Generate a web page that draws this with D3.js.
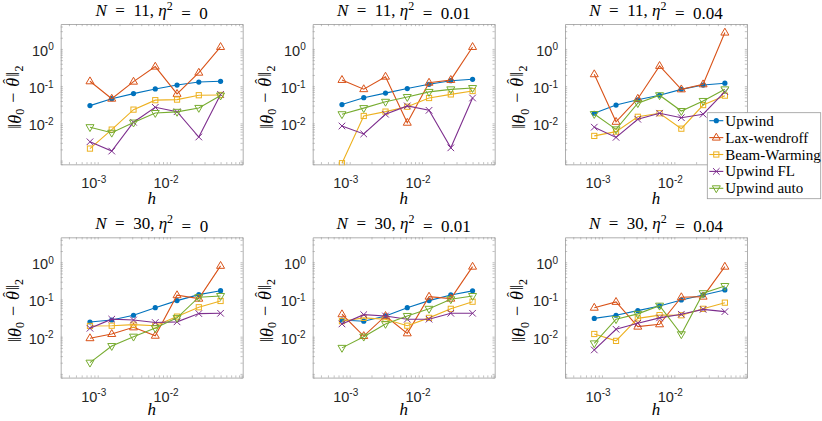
<!DOCTYPE html>
<html>
<head>
<meta charset="utf-8">
<script src="https://cdn.jsdelivr.net/npm/d3@7"></script>
<style>
  body { margin: 0; background: #fff; }
  svg { display: block; }
  .serif { font-family: "Liberation Serif", "DejaVu Serif", serif; }
  .sans { font-family: "Liberation Sans", Arial, sans-serif; }
</style>
</head>
<body>
<svg id="chart" width="822" height="421"></svg>
<script>
// DATA
const hValues = [1/1280, 1/640, 1/320, 1/160, 1/80, 1/40, 1/20];

const panelN = [11, 11, 11, 30, 30, 30];
const panelEta = ["0", "0.01", "0.04", "0", "0.01", "0.04"];

const seriesNames = ["Upwind", "Lax-wendroff", "Beam-Warming", "Upwind FL", "Upwind auto"];
const seriesColors = ["#0072BD", "#D95319", "#EDB120", "#7E2F8E", "#77AC30"];
const seriesMarkers = ["dot", "triUp", "square", "cross", "triDown"];

// one row per panel
const upwind = [
  [0.030, 0.046, 0.063, 0.084, 0.107, 0.129, 0.135],
  [0.032, 0.049, 0.065, 0.086, 0.112, 0.140, 0.153],
  [0.0187, 0.031, 0.043, 0.057, 0.082, 0.107, 0.120],
  [0.0248, 0.028, 0.0376, 0.060, 0.093, 0.135, 0.172],
  [0.028, 0.026, 0.036, 0.060, 0.093, 0.132, 0.170],
  [0.031, 0.0376, 0.050, 0.067, 0.097, 0.132, 0.180]
];
const laxWendroff = [
  [0.135, 0.046, 0.132, 0.335, 0.062, 0.230, 1.13],
  [0.147, 0.083, 0.180, 0.0104, 0.124, 0.147, 1.13],
  [0.209, 0.011, 0.046, 0.350, 0.082, 0.112, 2.75],
  [0.0091, 0.0118, 0.0178, 0.0106, 0.130, 0.105, 0.80],
  [0.040, 0.0104, 0.036, 0.0123, 0.119, 0.105, 0.76],
  [0.060, 0.086, 0.0186, 0.0215, 0.115, 0.119, 0.76]
];
const beamWarming = [
  [0.0021, 0.0068, 0.0234, 0.042, 0.0435, 0.057, 0.058],
  [0.00085, 0.0158, 0.0207, 0.028, 0.048, 0.060, 0.074],
  [0.0046, 0.0060, 0.015, 0.0187, 0.0072, 0.031, 0.0556],
  [0.0194, 0.0197, 0.021, 0.0197, 0.0346, 0.0617, 0.091],
  [0.026, 0.032, 0.0295, 0.0197, 0.032, 0.056, 0.087],
  [0.0118, 0.0077, 0.031, 0.038, 0.0376, 0.056, 0.082]
];
const upwindFL = [
  [0.0032, 0.0018, 0.0107, 0.027, 0.0205, 0.0043, 0.060],
  [0.0085, 0.0052, 0.0176, 0.0295, 0.0224, 0.0022, 0.048],
  [0.0079, 0.0042, 0.0129, 0.0187, 0.0142, 0.0176, 0.071],
  [0.0168, 0.0295, 0.028, 0.024, 0.025, 0.0417, 0.0425],
  [0.022, 0.039, 0.036, 0.0295, 0.0295, 0.0425, 0.0425],
  [0.0044, 0.0158, 0.023, 0.032, 0.040, 0.054, 0.047]
];
const upwindAuto = [
  [0.0079, 0.0056, 0.0105, 0.019, 0.0204, 0.026, 0.056],
  [0.0176, 0.0257, 0.038, 0.051, 0.070, 0.082, 0.089],
  [0.0178, 0.0069, 0.035, 0.057, 0.0215, 0.040, 0.082],
  [0.0020, 0.0056, 0.010, 0.017, 0.032, 0.115, 0.124],
  [0.0050, 0.010, 0.022, 0.036, 0.056, 0.101, 0.124],
  [0.0066, 0.0295, 0.041, 0.068, 0.0116, 0.147, 0.230]
];
const allSeries = [upwind, laxWendroff, beamWarming, upwindFL, upwindAuto];

const xMajor = [-3, -2];
const yMajor = [0, -1, -2];

// LAYOUT
const svg = d3.select("#chart");
const colLeft = [60.7, 312.7, 565];
const rowTop = [24, 237.3];
const hLabelDy = [40, 37.5];
const boxW = 182, boxH = 140.3;
const xDomain = [Math.pow(10, -3.512), Math.pow(10, -0.995)];
const yDomain = [Math.pow(10, -3.1), Math.pow(10, 0.67)];
const axisColor = "#9a9a9a";

function minorTicks(domain) {
  const out = [];
  const lo = Math.floor(Math.log10(domain[0])), hi = Math.ceil(Math.log10(domain[1]));
  for (let e = lo; e <= hi; e++) {
    for (let m = 1; m <= 9; m++) {
      const v = m * Math.pow(10, e);
      if (v >= domain[0] && v <= domain[1]) out.push(v);
    }
  }
  return out;
}

function drawMarker(sel, type, color) {
  if (type === "dot") {
    sel.append("circle").attr("r", 2.6).attr("fill", color);
  } else if (type === "triUp") {
    sel.append("path").attr("d", "M0,-4.4L4,2.5L-4,2.5Z")
      .attr("fill", "none").attr("stroke", color).attr("stroke-width", 1);
  } else if (type === "triDown") {
    sel.append("path").attr("d", "M0,4.4L4,-2.5L-4,-2.5Z")
      .attr("fill", "none").attr("stroke", color).attr("stroke-width", 1);
  } else if (type === "square") {
    sel.append("rect").attr("x", -2.6).attr("y", -2.6).attr("width", 5.2).attr("height", 5.2)
      .attr("fill", "none").attr("stroke", color).attr("stroke-width", 1);
  } else if (type === "cross") {
    sel.append("path").attr("d", "M-3.3,-3.3L3.3,3.3M-3.3,3.3L3.3,-3.3")
      .attr("fill", "none").attr("stroke", color).attr("stroke-width", 1);
  }
}

function powLabel(sel, exp) {
  sel.append("tspan").text("10");
  sel.append("tspan").attr("dy", "-0.55em").attr("font-size", "10px")
    .text(exp === 0 ? "0" : "-" + Math.abs(exp));
}

panelN.forEach((N, p) => {
  const col = p % 3, row = Math.floor(p / 3);
  const g = svg.append("g").attr("transform", `translate(${colLeft[col]},${rowTop[row]})`);

  const x = d3.scaleLog().domain(xDomain).range([0, boxW]);
  const y = d3.scaleLog().domain(yDomain).range([boxH, 0]);

  const clipId = "clip" + p;
  g.append("clipPath").attr("id", clipId)
    .append("rect").attr("x", -1).attr("y", -1).attr("width", boxW + 2).attr("height", boxH + 2);

  // ticks (inward, all sides)
  const xt = minorTicks(xDomain), yt = minorTicks(yDomain);
  const axes = [
    [d3.axisBottom(x), `translate(0,${boxH})`, xt],
    [d3.axisTop(x), "translate(0,0)", xt],
    [d3.axisLeft(y), "translate(0,0)", yt],
    [d3.axisRight(y), `translate(${boxW},0)`, yt]
  ];
  axes.forEach(([ax, tr, tv]) => {
    const a = g.append("g").attr("transform", tr)
      .call(ax.tickValues(tv).tickFormat("").tickSizeInner(-2.2).tickSizeOuter(0));
    a.select(".domain").attr("stroke", axisColor).attr("stroke-width", 0.8);
    a.selectAll(".tick line").attr("stroke", axisColor).attr("stroke-width", 0.6);
  });

  // tick labels
  xMajor.forEach(e => {
    const t = g.append("text").attr("class", "sans").attr("font-size", "14.5px")
      .attr("fill", "#262626")
      .attr("x", x(Math.pow(10, e)) - 4).attr("y", boxH + 24)
      .attr("text-anchor", "middle");
    powLabel(t, e);
  });
  yMajor.forEach(e => {
    const t = g.append("text").attr("class", "sans").attr("font-size", "14.5px")
      .attr("fill", "#262626")
      .attr("x", -7).attr("y", y(Math.pow(10, e)) + 7)
      .attr("text-anchor", "end");
    powLabel(t, e);
  });

  // title
  const title = g.append("text").attr("class", "serif").attr("font-size", "17px")
    .attr("x", boxW / 2).attr("y", -8).attr("text-anchor", "middle").attr("fill", "#000");
  title.append("tspan").attr("font-style", "italic").text("N");
  title.append("tspan").text("\u2002=\u2002" + N + ", ");
  title.append("tspan").attr("font-style", "italic").text("η");
  title.append("tspan").attr("dy", "-0.5em").attr("font-size", "12px").text("2");
  title.append("tspan").attr("dy", "0.5em").text("\u2002=\u2002" + panelEta[p]);

  // axis labels
  g.append("text").attr("class", "serif").attr("font-size", "17px").attr("font-style", "italic")
    .attr("x", boxW / 2).attr("y", boxH + hLabelDy[row]).attr("text-anchor", "middle").text("h");

  const yl = g.append("text").attr("class", "serif").attr("font-size", "18px")
    .attr("transform", `translate(-40,${boxH / 2 + 3}) rotate(-90)`)
    .attr("text-anchor", "middle");
  yl.append("tspan").text("‖");
  yl.append("tspan").attr("font-style", "italic").text("θ");
  yl.append("tspan").attr("dy", "0.3em").attr("font-size", "12px").text("0");
  yl.append("tspan").attr("dy", "-0.3em").text("\u2004−\u2004");
  yl.append("tspan").attr("font-style", "italic").text("θ");
  yl.append("tspan").attr("dx", "-0.4em").attr("dy", "-0.42em").attr("font-size", "15px").text("ˆ");
  yl.append("tspan").attr("dx", "0.12em").attr("dy", "0.35em").text("‖");
  yl.append("tspan").attr("dy", "0.3em").attr("font-size", "12px").text("2");

  // series
  const plot = g.append("g").attr("clip-path", `url(#${clipId})`);
  const line = d3.line().x((d, i) => x(hValues[i])).y(d => y(d));
  allSeries.forEach((s, k) => {
    const vals = s[p];
    plot.append("path").datum(vals).attr("d", line)
      .attr("fill", "none").attr("stroke", seriesColors[k]).attr("stroke-width", 1.1);
    vals.forEach((v, i) => {
      const m = plot.append("g").attr("transform", `translate(${x(hValues[i])},${y(v)})`);
      drawMarker(m, seriesMarkers[k], seriesColors[k]);
    });
  });
});

// LEGEND
const leg = svg.append("g").attr("transform", "translate(707.3,112.7)");
leg.append("rect").attr("width", 113.4).attr("height", 86)
  .attr("fill", "#fff").attr("stroke", axisColor).attr("stroke-width", 0.8);
seriesNames.forEach((name, k) => {
  const cy = 8 + k * 16.9;
  const r = leg.append("g").attr("transform", `translate(0,${cy})`);
  r.append("line").attr("x1", 2).attr("x2", 16).attr("stroke", seriesColors[k]).attr("stroke-width", 1.1);
  const m = r.append("g").attr("transform", "translate(9,0)");
  drawMarker(m, seriesMarkers[k], seriesColors[k]);
  r.append("text").attr("class", "serif").attr("font-size", "15px")
    .attr("x", 18).attr("y", 5).text(name);
});
</script>
</body>
</html>
